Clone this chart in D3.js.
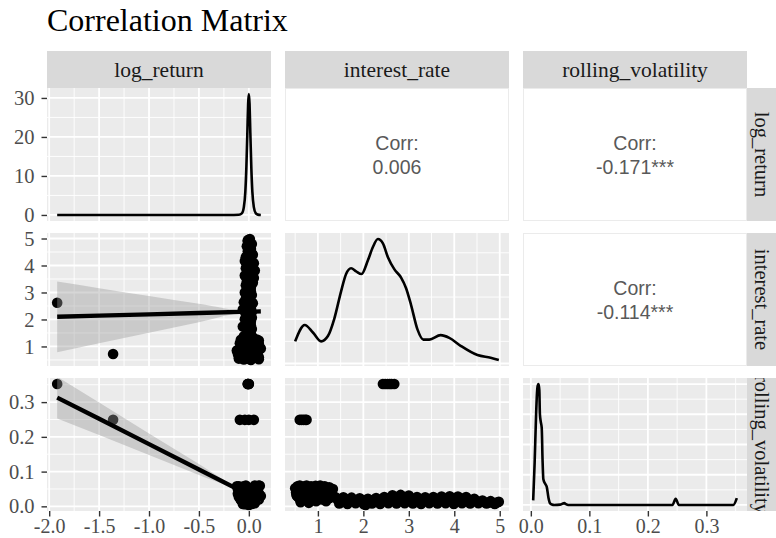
<!DOCTYPE html>
<html>
<head>
<meta charset="utf-8">
<script src="https://cdn.jsdelivr.net/npm/d3@7"></script>
<style>
  body { margin: 0; background: #ffffff; }
  svg { display: block; }
</style>
</head>
<body>
<script>
// ---------------- data ----------------
const variables = ["log_return", "interest_rate", "rolling_volatility"];

// observations: three aligned columns (one entry per row)
const logReturn = [
  // low rates, upper volatility band
  0.02, -0.10, 0.10, -0.06, 0.06, -0.12, 0.11, -0.03, 0.08, -0.08, 0.04,
  // low rates, lower volatility band
  -0.05, 0.07, -0.02, 0.09, -0.08, 0.03, -0.05, 0.06, -0.01, 0.05, 0.00, 0.12, -0.09, 0.04,
  0.01, -0.03, 0.05, -0.11, 0.02, 0.07, -0.07, 0.09, 0.00, -0.05, 0.10, 0.01, 0.03, -0.02,
  0.10, -0.10, 0.07, -0.08, -0.11, 0.09, 0.05, 0.10, -0.06, 0.08,
  // main body
  -0.05, 0.02, -0.01, 0.03, -0.06, 0.00, 0.02, -0.04, 0.01, -0.03,
  0.03, -0.06, 0.00, 0.02, -0.05, 0.01, -0.02, 0.03, -0.04, 0.00,
  0.02, -0.03, 0.04, -0.01, 0.05, -0.04, 0.02, 0.06, -0.03, 0.01,
  0.05, -0.04, 0.02, -0.02, 0.03, -0.01, 0.02, -0.02, 0.03, -0.01,
  0.01, 0.00,
  0.00, -0.02, 0.01, -0.03, 0.02, -0.01, 0.00, 0.03, -0.02, 0.01,
  -0.04, 0.02, -0.01, 0.04, 0.00, -0.03, 0.01, -0.01, 0.02, -0.02,
  0.00, 0.03, -0.02, 0.01, -0.03, 0.02, 0.00, -0.01, 0.03, -0.02,
  0.01, 0.00, -0.03, 0.04, 0.00, 0.02, -0.01, 0.01, 0.00, -0.01,
  // volatility 0.25 episode
  -0.09, -0.04, 0.00, -1.36, 0.05,
  // volatility 0.35 episode
  -0.01, 0.00, -0.01, 0.00, -1.92, -0.01
];
const interestRate = [
  0.50, 0.55, 0.60, 0.68, 0.75, 0.85, 0.95, 1.05, 1.15, 1.25, 1.33,
  0.52, 0.58, 0.62, 0.70, 0.78, 0.88, 0.98, 1.08, 1.18, 1.28, 0.65, 0.92, 1.12, 0.80,
  0.54, 0.57, 0.66, 0.73, 0.83, 0.90, 1.00, 1.03, 1.10, 1.20, 1.22, 1.30, 0.96, 0.76,
  0.53, 0.63, 0.71, 0.79, 0.87, 0.94, 1.01, 1.09, 1.17, 1.26,
  1.38, 1.47, 1.56, 1.65, 1.74, 1.83, 1.92, 2.01, 2.10, 2.19,
  2.28, 2.37, 2.46, 2.55, 2.64, 2.73, 2.82, 2.91, 3.00, 3.09,
  3.18, 3.27, 3.36, 3.45, 3.54, 3.63, 3.72, 3.81, 3.90, 3.99,
  4.08, 4.17, 4.26, 4.35, 4.44, 4.53, 4.62, 4.71, 4.80, 4.89,
  4.98, 2.05,
  1.43, 1.52, 1.61, 1.70, 1.79, 1.88, 1.97, 2.06, 2.15, 2.24,
  2.33, 2.42, 2.51, 2.60, 2.69, 2.78, 2.87, 2.96, 3.05, 3.14,
  3.23, 3.32, 3.41, 3.50, 3.59, 3.68, 3.77, 3.86, 3.95, 4.04,
  4.13, 4.22, 4.31, 4.40, 4.49, 4.58, 4.67, 4.76, 4.85, 4.94,
  0.60, 0.64, 0.68, 0.72, 0.75,
  2.43, 2.48, 2.53, 2.58, 2.62, 2.68
];
const rollingVol = [
  0.052, 0.058, 0.060, 0.057, 0.060, 0.058, 0.059, 0.060, 0.058, 0.055, 0.050,
  0.040, 0.025, 0.012, 0.035, 0.018, 0.043, 0.022, 0.038, 0.015, 0.030, 0.045, 0.030, 0.045, 0.010,
  0.030, 0.048, 0.022, 0.050, 0.028, 0.052, 0.035, 0.050, 0.025, 0.048, 0.038, 0.040, 0.015, 0.040,
  0.033, 0.027, 0.040, 0.020, 0.036, 0.026, 0.042, 0.020, 0.034, 0.024,
  0.027, 0.008, 0.026, 0.007, 0.025, 0.009, 0.023, 0.006, 0.022, 0.008,
  0.024, 0.007, 0.027, 0.009, 0.032, 0.008, 0.033, 0.009, 0.031, 0.008,
  0.027, 0.007, 0.026, 0.009, 0.027, 0.008, 0.028, 0.009, 0.029, 0.007,
  0.028, 0.009, 0.027, 0.008, 0.022, 0.009, 0.017, 0.008, 0.015, 0.007,
  0.013, 0.004,
  0.020, 0.019, 0.021, 0.018, 0.019, 0.017, 0.018, 0.016, 0.017, 0.018,
  0.019, 0.020, 0.022, 0.024, 0.025, 0.026, 0.025, 0.024, 0.022, 0.020,
  0.019, 0.018, 0.019, 0.020, 0.021, 0.022, 0.023, 0.024, 0.023, 0.022,
  0.023, 0.022, 0.020, 0.018, 0.015, 0.013, 0.012, 0.011, 0.010, 0.011,
  0.249, 0.249, 0.249, 0.249, 0.249,
  0.352, 0.352, 0.352, 0.352, 0.352, 0.352
];

// kernel density curves on the diagonal
const densLogReturnX = [-1.92, -1.0, -0.2, -0.1, -0.07, -0.05, -0.035, -0.025, -0.015, -0.007, 0.0, 0.007, 0.015, 0.025, 0.035, 0.05, 0.07, 0.09, 0.12];
const densLogReturnY = [0, 0, 0, 0.05, 0.4, 2.0, 6, 12, 21, 28.5, 31, 28.5, 21, 12, 6, 2.0, 0.4, 0.08, 0];

const densInterestX = [0.50, 0.71, 0.89, 1.07, 1.22, 1.36, 1.51, 1.62, 1.73, 1.84, 1.96, 2.10, 2.21, 2.32, 2.43, 2.54, 2.68, 2.83, 2.94, 3.05, 3.19, 3.32, 3.45, 3.70, 3.89, 4.14, 4.51, 4.80, 4.98];
const densInterestY = [0.150, 0.187, 0.170, 0.150, 0.162, 0.201, 0.263, 0.302, 0.315, 0.308, 0.302, 0.333, 0.363, 0.381, 0.371, 0.340, 0.313, 0.294, 0.270, 0.232, 0.177, 0.154, 0.154, 0.164, 0.158, 0.140, 0.119, 0.113, 0.108];

const densVolX = [0.004, 0.0065, 0.009, 0.0105, 0.0118, 0.0132, 0.0145, 0.0155, 0.017, 0.0186, 0.0200, 0.0214, 0.0245, 0.0272, 0.030, 0.0328, 0.036, 0.040, 0.050, 0.054, 0.0572, 0.060, 0.064, 0.100, 0.200, 0.242, 0.2475, 0.253, 0.300, 0.346, 0.352];
const densVolY = [3, 28, 60, 74, 79, 80, 76, 60, 55, 51, 30, 17, 14, 12, 5, 1.2, 0.3, 0, 0.2, 0.8, 1.2, 0.5, 0, 0, 0, 0, 4, 0, 0, 0, 4.5];

// linear fits with 95% band (lower triangle, against log_return)
const fitX = [-1.92, -1.5, -1.0, -0.5, 0.0, 0.12];
const fitInterest = [2.100, 2.141, 2.190, 2.239, 2.288, 2.300];
const fitInterestHalf = [1.31, 1.02, 0.68, 0.34, 0.03, 0.09];
const fitVol = [0.313, 0.252, 0.179, 0.106, 0.033, 0.0155];
const fitVolHalf = [0.060, 0.047, 0.031, 0.016, 0.002, 0.004];

// correlation labels for the upper triangle
const corrCells = [[0, 1], [0, 2], [1, 2]];
const corrLabels = ["0.006", "-0.171***", "-0.114***"];

// axis breaks and labels
const breaksLogReturn = [-2.0, -1.5, -1.0, -0.5, 0.0];
const labelsLogReturn = ["-2.0", "-1.5", "-1.0", "-0.5", "0.0"];
const breaksInterest = [1, 2, 3, 4, 5];
const labelsInterest = ["1", "2", "3", "4", "5"];
const breaksVol = [0.0, 0.1, 0.2, 0.3];
const labelsVol = ["0.0", "0.1", "0.2", "0.3"];
const breaksDensLogReturn = [0, 10, 20, 30];
const labelsDensLogReturn = ["0", "10", "20", "30"];
const breaksDensInterest = [0.1, 0.2, 0.3];
const breaksDensVol = [0, 20, 40, 60, 80];

// ---------------- layout ----------------
const W = 776, H = 538;
const panelLeft = 47, panelW = 224, colGap = 14;
const panelTop = 88, panelH = 133, rowGap = 12;
const stripTop = 51, stripH = 37;
const rightStripX = 747, rightStripW = 29;
const colX = i => panelLeft + i * (panelW + colGap);
const rowY = i => panelTop + i * (panelH + rowGap);

const serif = "'Liberation Serif', 'Times New Roman', serif";
const sans = "'Liberation Sans', Arial, sans-serif";

const svg = d3.select("body").append("svg")
  .attr("width", W).attr("height", H)
  .style("font-family", serif);

function expand(ext) {
  const r = ext[1] - ext[0];
  return [ext[0] - 0.05 * r, ext[1] + 0.05 * r];
}
function minorBreaks(breaks, domain) {
  const step = breaks[1] - breaks[0];
  const cand = [breaks[0] - step / 2].concat(breaks.map(b => b + step / 2));
  return cand.filter(v => v >= domain[0] && v <= domain[1]);
}

const columns = { log_return: logReturn, interest_rate: interestRate, rolling_volatility: rollingVol };
const varBreaks = [breaksLogReturn, breaksInterest, breaksVol];
const varLabels = [labelsLogReturn, labelsInterest, labelsVol];

const xScales = variables.map((v, i) => d3.scaleLinear()
  .domain(expand(d3.extent(columns[v]))).range([colX(i), colX(i) + panelW]));
const yScales = variables.map((v, i) => d3.scaleLinear()
  .domain(expand(d3.extent(columns[v]))).range([rowY(i) + panelH, rowY(i)]));

const densities = [
  { x: densLogReturnX, y: densLogReturnY, breaks: breaksDensLogReturn },
  { x: densInterestX, y: densInterestY, breaks: breaksDensInterest },
  { x: densVolX, y: densVolY, breaks: breaksDensVol }
];
const densScales = densities.map((d, i) => d3.scaleLinear()
  .domain(expand(d3.extent(d.y))).range([rowY(i) + panelH, rowY(i)]));

// ---------------- title ----------------
svg.append("text")
  .attr("x", 47).attr("y", 31)
  .style("font-family", serif).attr("font-size", 32).attr("fill", "#000")
  .text("Correlation Matrix");

// ---------------- strips ----------------
const defs = svg.append("defs");
variables.forEach((v, i) => {
  svg.append("rect").attr("x", colX(i)).attr("y", stripTop)
    .attr("width", panelW).attr("height", stripH).attr("fill", "#d9d9d9");
  svg.append("text").attr("x", colX(i) + panelW / 2).attr("y", stripTop + stripH / 2 + 7)
    .attr("text-anchor", "middle").style("font-family", serif).attr("font-size", 21.5)
    .attr("fill", "#1a1a1a").text(v);

  const cid = "rstrip" + i;
  defs.append("clipPath").attr("id", cid).append("rect")
    .attr("x", rightStripX).attr("y", rowY(i)).attr("width", rightStripW).attr("height", panelH);
  svg.append("rect").attr("x", rightStripX).attr("y", rowY(i))
    .attr("width", rightStripW).attr("height", panelH).attr("fill", "#d9d9d9");
  svg.append("g").attr("clip-path", `url(#${cid})`)
    .append("text")
    .attr("transform", `translate(${rightStripX + rightStripW / 2 - 7},${rowY(i) + panelH / 2}) rotate(90)`)
    .attr("text-anchor", "middle").style("font-family", serif).attr("font-size", 20.5)
    .attr("fill", "#1a1a1a").text(v);
});

// ---------------- panels ----------------
function drawGrid(g, xs, ys, xBreaks, yBreaks, x0, y0) {
  g.append("rect").attr("x", x0).attr("y", y0).attr("width", panelW).attr("height", panelH).attr("fill", "#ebebeb");
  const xd = xs.domain(), yd = ys.domain();
  minorBreaks(xBreaks, xd).forEach(v => g.append("line")
    .attr("x1", xs(v)).attr("x2", xs(v)).attr("y1", y0).attr("y2", y0 + panelH)
    .attr("stroke", "#fff").attr("stroke-width", 0.9));
  minorBreaks(yBreaks, yd).forEach(v => g.append("line")
    .attr("y1", ys(v)).attr("y2", ys(v)).attr("x1", x0).attr("x2", x0 + panelW)
    .attr("stroke", "#fff").attr("stroke-width", 0.9));
  xBreaks.filter(v => v >= xd[0] && v <= xd[1]).forEach(v => g.append("line")
    .attr("x1", xs(v)).attr("x2", xs(v)).attr("y1", y0).attr("y2", y0 + panelH)
    .attr("stroke", "#fff").attr("stroke-width", 1.8));
  yBreaks.filter(v => v >= yd[0] && v <= yd[1]).forEach(v => g.append("line")
    .attr("y1", ys(v)).attr("y2", ys(v)).attr("x1", x0).attr("x2", x0 + panelW)
    .attr("stroke", "#fff").attr("stroke-width", 1.8));
}

for (let r = 0; r < 3; r++) {
  for (let c = 0; c < 3; c++) {
    const x0 = colX(c), y0 = rowY(r);
    const cid = `clip-${r}-${c}`;
    defs.append("clipPath").attr("id", cid).append("rect")
      .attr("x", x0).attr("y", y0).attr("width", panelW).attr("height", panelH);
    const g = svg.append("g").attr("clip-path", `url(#${cid})`);
    const xs = xScales[c];

    if (r < c) {
      // upper triangle: correlation text
      g.append("rect").attr("x", x0 + 0.5).attr("y", y0 + 0.5).attr("width", panelW - 1).attr("height", panelH - 1)
        .attr("fill", "#fff").attr("stroke", "#ebebeb").attr("stroke-width", 1);
      const k = corrCells.findIndex(p => p[0] === r && p[1] === c);
      const cx = x0 + panelW / 2, cy = y0 + panelH / 2;
      g.append("text").attr("x", cx).attr("y", cy - 5).attr("text-anchor", "middle")
        .style("font-family", sans).attr("font-size", 19.5).attr("fill", "#595959").text("Corr:");
      g.append("text").attr("x", cx).attr("y", cy + 19).attr("text-anchor", "middle")
        .style("font-family", sans).attr("font-size", 19.5).attr("fill", "#595959").text(corrLabels[k]);
    } else if (r === c) {
      // diagonal: density
      const ds = densScales[r], d = densities[r];
      drawGrid(g, xs, ds, varBreaks[c], d.breaks, x0, y0);
      const line = d3.line().x(i => xs(d.x[i])).y(i => ds(d.y[i])).curve(d3.curveMonotoneX);
      g.append("path").attr("d", line(d3.range(d.x.length)))
        .attr("fill", "none").attr("stroke", "#000").attr("stroke-width", 2.6)
        .attr("stroke-linejoin", "round");
    } else {
      // lower triangle: scatter with linear fit
      const ys = yScales[r];
      drawGrid(g, xs, ys, varBreaks[c], varBreaks[r], x0, y0);
      const xv = columns[variables[c]], yv = columns[variables[r]];
      g.append("g").selectAll("circle").data(d3.range(xv.length)).join("circle")
        .attr("cx", i => xs(xv[i])).attr("cy", i => ys(yv[i])).attr("r", 5.3).attr("fill", "#000");
      if (c === 0) {
        const fit = r === 1 ? fitInterest : fitVol;
        const half = r === 1 ? fitInterestHalf : fitVolHalf;
        const idx = d3.range(fitX.length);
        const area = d3.area().x(i => xs(fitX[i])).y0(i => ys(fit[i] - half[i])).y1(i => ys(fit[i] + half[i]))
          .curve(d3.curveMonotoneX);
        g.append("path").attr("d", area(idx)).attr("fill", "#999999").attr("fill-opacity", 0.4);
        const line = d3.line().x(i => xs(fitX[i])).y(i => ys(fit[i]));
        g.append("path").attr("d", line(idx)).attr("fill", "none").attr("stroke", "#000").attr("stroke-width", 4.3);
      }
    }
  }
}

// ---------------- axes ----------------
function styleAxis(g, size) {
  g.attr("font-family", null).attr("font-size", size);
  g.select(".domain").remove();
  g.selectAll(".tick line").attr("stroke", "#333333").attr("stroke-width", 1.4);
  g.selectAll(".tick text").attr("fill", "#4d4d4d").attr("font-size", size).style("font-family", serif);
}
// left axes
const leftAxes = [
  { scale: densScales[0], breaks: breaksDensLogReturn, labels: labelsDensLogReturn },
  { scale: yScales[1], breaks: breaksInterest, labels: labelsInterest },
  { scale: yScales[2], breaks: breaksVol, labels: labelsVol }
];
leftAxes.forEach(a => {
  svg.append("g").attr("transform", `translate(${panelLeft},0)`)
    .call(d3.axisLeft(a.scale).tickValues(a.breaks).tickFormat((d, i) => a.labels[i]).tickSize(5.5).tickPadding(7))
    .call(styleAxis, 20.5);
});
// bottom axes (kept tight so the labels stay inside the canvas)
const bottomY = rowY(2) + panelH;
variables.forEach((v, i) => {
  svg.append("g").attr("transform", `translate(0,${bottomY})`)
    .call(d3.axisBottom(xScales[i]).tickValues(varBreaks[i]).tickFormat((d, k) => varLabels[i][k]).tickSize(5.5).tickPadding(2.6))
    .call(styleAxis, 20);
});
</script>
</body>
</html>
